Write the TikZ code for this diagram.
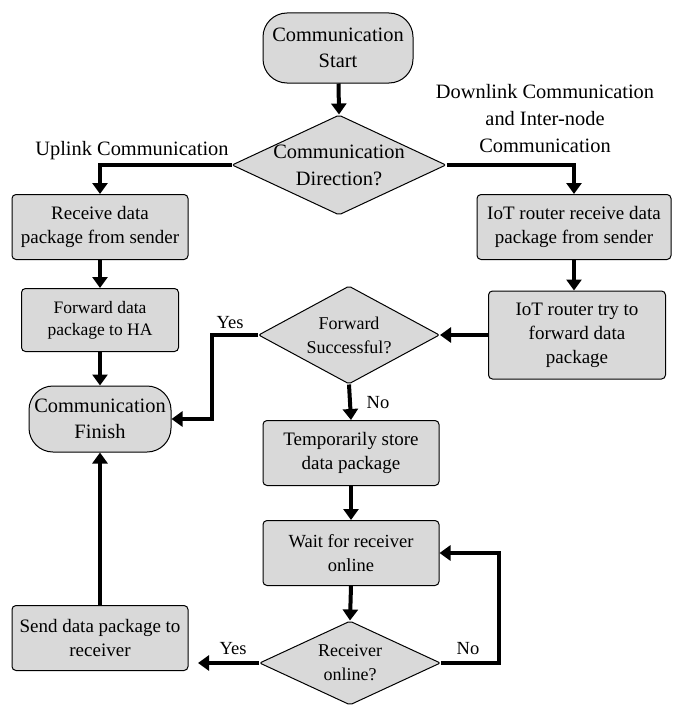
\documentclass[tikz,border=0pt]{standalone}
\usepackage{fontspec}
\setmainfont{Liberation Serif}
\usetikzlibrary{arrows.meta,shapes.geometric}

\begin{document}
\begin{tikzpicture}[x=1pt, y=-1pt,
  box/.style={draw, fill=black!15, line width=1pt, rounded corners=4pt, align=center, inner sep=0pt, font=\fontsize{19}{24}\selectfont},
  term/.style={box, rounded corners=24pt, font=\fontsize{20.4}{26}\selectfont},
  decision/.style={draw, fill=black!15, line width=1pt, diamond, rounded corners=2pt, align=center, inner xsep=-40pt, inner ysep=-10pt, font=\fontsize{18}{24}\selectfont},
  flow/.style={-{Triangle[length=11pt, width=15pt]}, line width=4pt},
  lab/.style={align=center, inner sep=0pt, font=\fontsize{20.4}{27}\selectfont},
  yn/.style={inner sep=0pt, font=\fontsize{18.5}{22}\selectfont}
]
\useasboundingbox (0,0) rectangle (672,709);

% terminals
\node[term, minimum width=150pt, minimum height=70pt] (start) at (338,48) {Communication\\Start};
\node[term, minimum width=142pt, minimum height=66pt] (finish) at (100,419) {Communication\\Finish};

% decisions
\node[decision, minimum width=214pt, minimum height=100pt, font=\fontsize{20.4}{27}\selectfont] (dir) at (339,165) {Communication\\Direction?};
\node[decision, minimum width=181pt, minimum height=98pt] (fsucc) at (349,335) {Forward\\Successful?};
\node[decision, minimum width=181pt, minimum height=84pt] (recvon) at (350,663) {Receiver\\online?};

% process boxes
\node[box, minimum width=176pt, minimum height=65pt] (recv) at (100,227) {Receive data\\package from sender};
\node[box, minimum width=157pt, minimum height=63pt, font=\fontsize{17.5}{22}\selectfont] (fwd) at (100,320) {Forward data\\package to HA};
\node[box, minimum width=176pt, minimum height=65pt] (send) at (100,638) {Send data package to\\receiver};
\node[box, minimum width=194pt, minimum height=65pt] (iotrecv) at (574,227) {IoT router receive data\\package from sender};
\node[box, minimum width=177pt, minimum height=88pt] (try) at (577,335) {IoT router try to\\forward data\\package};
\node[box, minimum width=176pt, minimum height=65pt] (temp) at (351,453) {Temporarily store\\data package};
\node[box, minimum width=176pt, minimum height=65pt, font=\fontsize{18.5}{24}\selectfont] (wait) at (351,553) {Wait for receiver\\online};

% branch labels
\node[lab] (uplab) at (132,151) {Uplink Communication};
\node[lab] (downlab) at (545,119) {Downlink Communication\\and Inter-node\\Communication};
\node[yn] (yes1) at (230,323) {Yes};
\node[yn] (no1) at (378,403) {No};
\node[yn] (no2) at (468,649) {No};
\node[yn] (yes2) at (233,649) {Yes};
\coordinate (yesend) at (198,663);

% connectors
\draw[flow] (start) -- (dir.north);
\draw[flow] (dir.west) -| (recv.north);
\draw[flow] (dir.east) -| (iotrecv.north);
\draw[flow] (recv) -- (fwd);
\draw[flow] (fwd) -- (finish);
\draw[flow] (iotrecv.south) -- (iotrecv.south |- try.north);
\draw[flow] (try.west) -- (fsucc.east);
\draw[flow] (fsucc.west) -- ++(-46,0) |- (finish.east);
\draw[flow] (fsucc.south) -- (temp.north);
\draw[flow] (temp) -- (wait);
\draw[flow] (wait.south) -- (recvon.north);
\draw[flow] (recvon.east) -- ++(58,0) |- (wait.east);
\draw[flow] (recvon.west) -- (yesend);
\draw[flow] (send) -- (finish);
\end{tikzpicture}
\end{document}
